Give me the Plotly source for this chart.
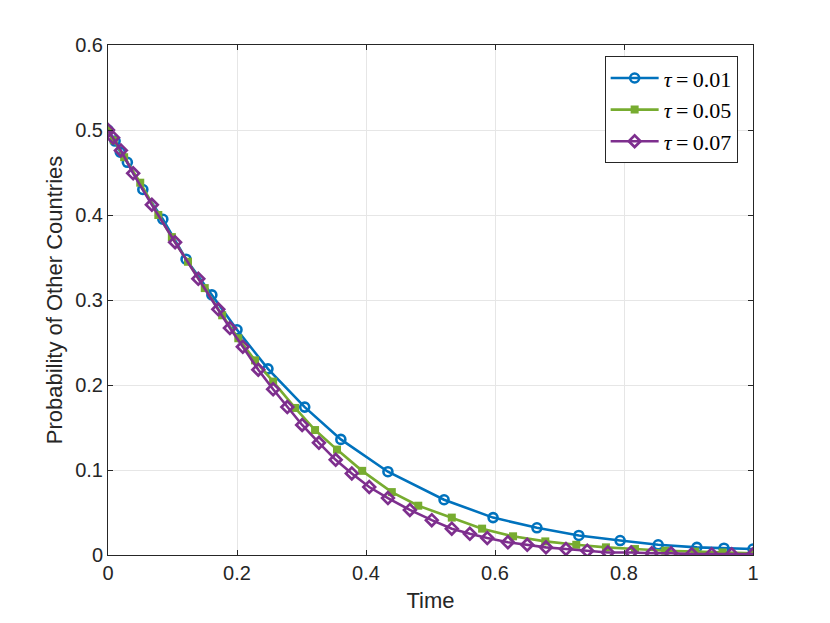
import plotly.graph_objects as go

# solver output
t_001 = [0, 0.011, 0.019, 0.030, 0.054, 0.085, 0.121, 0.161, 0.200, 0.248, 0.305,
         0.361, 0.434, 0.521, 0.597, 0.665, 0.730, 0.794, 0.853, 0.913, 0.955, 1.0]
p_001 = [0.5, 0.487, 0.474, 0.462, 0.430, 0.395, 0.348, 0.306, 0.265, 0.219, 0.174,
         0.136, 0.098, 0.065, 0.044, 0.032, 0.023, 0.017, 0.012, 0.009, 0.008, 0.007]

t_005 = [0, 0.009, 0.025, 0.050, 0.078, 0.099, 0.124, 0.150, 0.177, 0.202, 0.228,
         0.256, 0.290, 0.321, 0.355, 0.394, 0.440, 0.481, 0.533, 0.580, 0.628,
         0.678, 0.726, 0.772, 0.817, 0.864, 0.910, 0.953, 1.0]
p_005 = [0.5, 0.488, 0.468, 0.438, 0.400, 0.374, 0.345, 0.314, 0.282, 0.255, 0.229,
         0.204, 0.173, 0.147, 0.124, 0.099, 0.074, 0.058, 0.044, 0.031, 0.022,
         0.016, 0.012, 0.009, 0.007, 0.005, 0.004, 0.003, 0.002]

t_007 = [0, 0.008, 0.020, 0.039, 0.068, 0.104, 0.140, 0.171, 0.189, 0.209, 0.233,
         0.256, 0.278, 0.301, 0.327, 0.353, 0.378, 0.405, 0.434, 0.468, 0.502,
         0.533, 0.561, 0.588, 0.620, 0.650, 0.679, 0.710, 0.743, 0.775, 0.811,
         0.843, 0.873, 0.905, 0.936, 0.967, 1.0]
p_007 = [0.5, 0.491, 0.476, 0.449, 0.412, 0.368, 0.325, 0.289, 0.267, 0.245, 0.218,
         0.195, 0.174, 0.153, 0.132, 0.112, 0.096, 0.080, 0.067, 0.053, 0.041,
         0.031, 0.025, 0.020, 0.015, 0.012, 0.009, 0.007, 0.005, 0.003, 0.003,
         0.002, 0.002, 0.001, 0.001, 0.001, 0.001]

x_ticks = [0, 0.2, 0.4, 0.6, 0.8, 1]
x_tick_text = ["0", "0.2", "0.4", "0.6", "0.8", "1"]
y_ticks = [0, 0.1, 0.2, 0.3, 0.4, 0.5, 0.6]
y_tick_text = ["0", "0.1", "0.2", "0.3", "0.4", "0.5", "0.6"]

fig = go.Figure()
fig.add_trace(go.Scatter(
    x=t_001, y=p_001, mode="lines+markers", name="<i>τ</i>\u2009=\u20090.01",
    line=dict(color="#0072BD", width=2.6),
    marker=dict(symbol="circle-open", size=9, line=dict(width=2.6, color="#0072BD")),
))
fig.add_trace(go.Scatter(
    x=t_005, y=p_005, mode="lines+markers", name="<i>τ</i>\u2009=\u20090.05",
    line=dict(color="#77AC30", width=2.6),
    marker=dict(symbol="square", size=8, color="#77AC30"),
))
fig.add_trace(go.Scatter(
    x=t_007, y=p_007, mode="lines+markers", name="<i>τ</i>\u2009=\u20090.07",
    line=dict(color="#7E2F8E", width=2.6),
    marker=dict(symbol="diamond-open", size=9, line=dict(width=2.7, color="#7E2F8E")),
))

axis_style = dict(
    showline=True, linecolor="#262626", linewidth=1, mirror="ticks",
    ticks="inside", ticklen=5, tickcolor="#262626",
    showgrid=True, gridcolor="#e6e6e6", gridwidth=1, zeroline=False,
    tickfont=dict(family="Liberation Sans, Arial", size=20, color="#262626"),
)

fig.update_layout(
    width=830, height=623,
    margin=dict(l=100, r=85, t=37, b=76),
    paper_bgcolor="white", plot_bgcolor="white",
    showlegend=True,
    legend=dict(
        x=0.77, y=0.978, xanchor="left", yanchor="top",
        bgcolor="white", bordercolor="#262626", borderwidth=1,
        font=dict(family="Liberation Serif, DejaVu Serif", size=22, color="#000000"),
        tracegroupgap=0, itemwidth=48,
    ),
)
fig.update_xaxes(
    range=[0, 1], tickvals=x_ticks, ticktext=x_tick_text,
    title=dict(text="Time", standoff=9,
               font=dict(family="Liberation Sans, Arial", size=22, color="#262626")),
    **axis_style,
)
fig.update_yaxes(
    range=[0, 0.6], tickvals=y_ticks, ticktext=y_tick_text,
    title=dict(text="Probability of Other Countries", standoff=6,
               font=dict(family="Liberation Sans, Arial", size=22, color="#262626")),
    **axis_style,
)

fig.write_html("out.html")
